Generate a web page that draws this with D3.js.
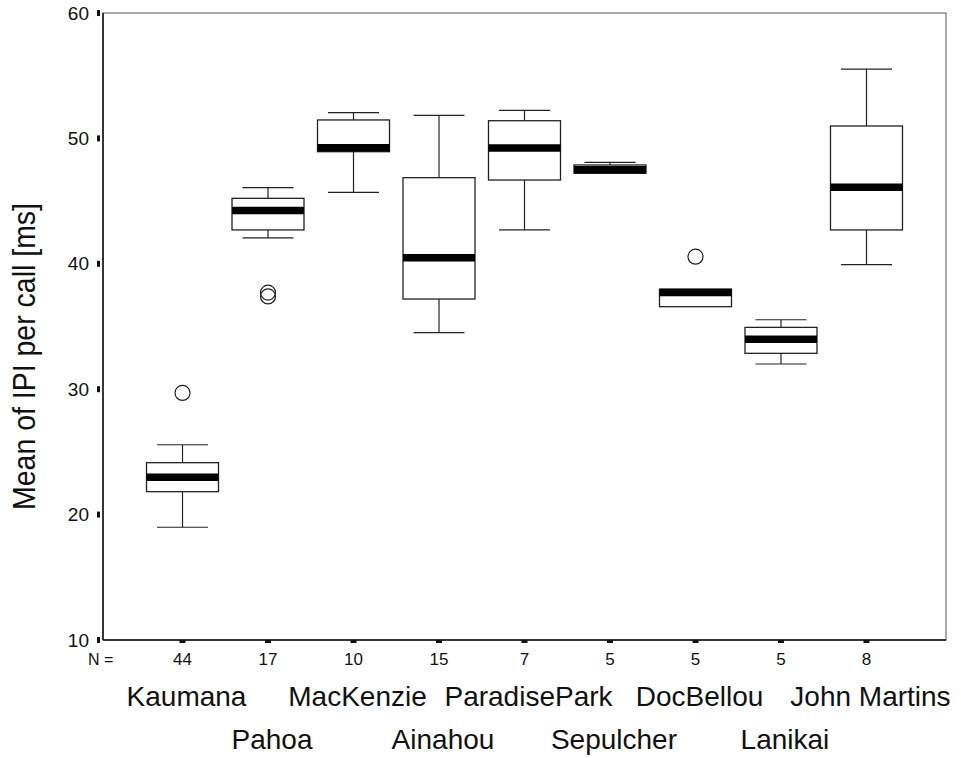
<!DOCTYPE html>
<html>
<head>
<meta charset="utf-8">
<script src="https://cdn.jsdelivr.net/npm/d3@7"></script>
<style>
  html, body { margin: 0; padding: 0; background: #fff; }
  svg { display: block; font-family: "Liberation Sans", Arial, Helvetica, sans-serif; }
</style>
</head>
<body>
<svg id="chart" width="961" height="758"></svg>
<script>
const categories = ["Kaumana", "Pahoa", "MacKenzie", "Ainahou", "ParadisePark", "Sepulcher", "DocBellou", "Lanikai", "John Martins"];
const nValues    = [44, 17, 10, 15, 7, 5, 5, 5, 8];
const whiskerLow = [18.99, 42.06, 45.70, 34.51, 42.70, 47.22, 36.58, 32.01, 39.93];
const q1Values   = [21.83, 42.70, 48.94, 37.19, 46.68, 47.22, 36.58, 32.86, 42.70];
const medians    = [22.97, 44.26, 49.26, 40.49, 49.23, 47.50, 37.72, 33.98, 46.10];
const q3Values   = [24.14, 45.22, 51.47, 46.87, 51.41, 47.88, 37.98, 34.93, 50.99];
const whiskerHigh= [25.57, 46.07, 52.05, 51.84, 52.24, 48.09, 37.98, 35.54, 55.53];
const outlierCats   = ["Kaumana", "Pahoa", "Pahoa", "DocBellou"];
const outlierValues = [29.7, 37.4, 37.7, 40.57];
const yTicks = [10, 20, 30, 40, 50, 60];
const yLabel = "Mean of IPI per call  [ms]";

(function () {
const mLeft = 103, mRight = 946, mTop = 13, mBottom = 640;
const svg = d3.select("#chart");

const x = d3.scalePoint().domain(categories).range([mLeft, mRight]).padding(0.93);
const y = d3.scaleLinear().domain([10, 60]).range([mBottom, mTop]);

// frame
svg.append("rect").attr("x", mLeft).attr("y", mTop).attr("width", mRight - mLeft).attr("height", mBottom - mTop)
  .attr("fill", "none").attr("stroke", "#555").attr("stroke-width", 1);
svg.append("line").attr("x1", mLeft).attr("x2", mLeft).attr("y1", mTop).attr("y2", mBottom)
  .attr("stroke", "#111").attr("stroke-width", 1.5);
svg.append("line").attr("x1", mLeft).attr("x2", mRight).attr("y1", mBottom).attr("y2", mBottom)
  .attr("stroke", "#111").attr("stroke-width", 1.5);

// y ticks
const yg = svg.append("g");
yTicks.forEach(t => {
  yg.append("rect").attr("x", 97).attr("y", y(t) - 3).attr("width", 3).attr("height", 6).attr("fill", "#111");
  yg.append("text").attr("x", 89).attr("y", y(t)).attr("dy", "0.35em").attr("text-anchor", "end")
    .attr("font-size", 19).attr("fill", "#111").text(t);
});

// y label
svg.append("text")
  .attr("transform", `translate(35,${(203 + 510) / 2}) rotate(-90)`)
  .attr("text-anchor", "middle")
  .attr("font-size", 32).attr("fill", "#111")
  .attr("textLength", 307).attr("lengthAdjust", "spacingAndGlyphs")
  .text(yLabel);

// x tick marks and N labels
svg.append("text").attr("x", 88).attr("y", 665).attr("font-size", 16).attr("fill", "#111").text("N =");
categories.forEach((c, i) => {
  svg.append("rect").attr("x", x(c) - 3).attr("y", mBottom).attr("width", 6).attr("height", 3).attr("fill", "#111");
  svg.append("text").attr("x", x(c)).attr("y", 665).attr("text-anchor", "middle")
    .attr("font-size", 17).attr("fill", "#111").text(nValues[i]);
  svg.append("text").attr("x", x(c) + 4).attr("y", i % 2 === 0 ? 706 : 749).attr("text-anchor", "middle")
    .attr("font-size", 28).attr("fill", "#111").text(c);
});

// boxes
const boxW = 72, capW = 51;
const g = svg.append("g");
categories.forEach((c, i) => {
  const cx = x(c);
  if (whiskerHigh[i] > q3Values[i]) {
    g.append("line").attr("x1", cx).attr("x2", cx).attr("y1", y(whiskerHigh[i])).attr("y2", y(q3Values[i]))
      .attr("stroke", "#222").attr("stroke-width", 1.2);
    g.append("line").attr("x1", cx - capW / 2).attr("x2", cx + capW / 2).attr("y1", y(whiskerHigh[i])).attr("y2", y(whiskerHigh[i]))
      .attr("stroke", "#222").attr("stroke-width", 1.2);
  }
  if (whiskerLow[i] < q1Values[i]) {
    g.append("line").attr("x1", cx).attr("x2", cx).attr("y1", y(q1Values[i])).attr("y2", y(whiskerLow[i]))
      .attr("stroke", "#222").attr("stroke-width", 1.2);
    g.append("line").attr("x1", cx - capW / 2).attr("x2", cx + capW / 2).attr("y1", y(whiskerLow[i])).attr("y2", y(whiskerLow[i]))
      .attr("stroke", "#222").attr("stroke-width", 1.2);
  }
  g.append("rect").attr("x", cx - boxW / 2).attr("y", y(q3Values[i]))
    .attr("width", boxW).attr("height", y(q1Values[i]) - y(q3Values[i]))
    .attr("fill", "#fff").attr("stroke", "#222").attr("stroke-width", 1.3);
  g.append("line").attr("x1", cx - boxW / 2).attr("x2", cx + boxW / 2).attr("y1", y(medians[i])).attr("y2", y(medians[i]))
    .attr("stroke", "#000").attr("stroke-width", 7.5);
});

// outliers
outlierCats.forEach((c, i) => {
  g.append("circle").attr("cx", x(c)).attr("cy", y(outlierValues[i])).attr("r", 7.5)
    .attr("fill", "none").attr("stroke", "#222").attr("stroke-width", 1.2);
});
})();
</script>
</body>
</html>
